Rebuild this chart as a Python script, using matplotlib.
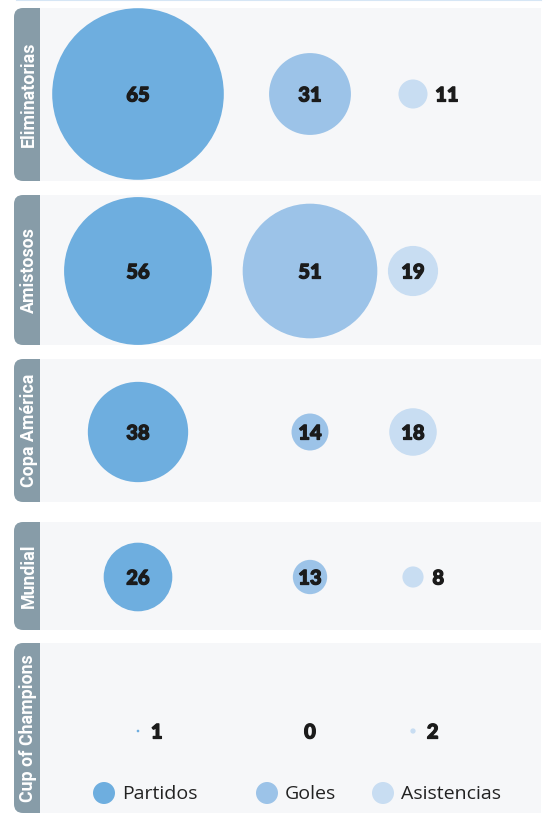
import matplotlib.pyplot as plt
import matplotlib.patheffects as pe
from matplotlib.patches import Circle, FancyBboxPatch, Rectangle

# data
categorias = ["Eliminatorias", "Amistosos", "Copa América", "Mundial", "Cup of Champions"]
partidos = [65, 56, 38, 26, 1]
goles = [31, 51, 14, 13, 0]
asistencias = [11, 19, 18, 8, 2]
series_names = ["Partidos", "Goles", "Asistencias"]

colores = ["#6eaedf", "#9cc3e8", "#c8ddf2"]
banda = "#879ca8"
fondo = "#f6f7f9"

# layout of panels (pixels, top/bottom)
paneles = [(8, 181), (195, 345), (359, 502), (522, 630), (643, 813)]
centros_y = [94, 271, 432, 577, 731]
columnas_x = [138, 310, 413]
px_por_unidad = 1.32

W, H = 551, 813
fig = plt.figure(figsize=(W / 100, H / 100), dpi=100)
ax = fig.add_axes([0, 0, 1, 1])
ax.set_xlim(0, W)
ax.set_ylim(H, 0)
ax.set_aspect("equal")
ax.axis("off")

ax.plot([17, 541], [0.5, 0.5], color="#d6e6f5", lw=1.5)

# make the numbers a bit heavier
grueso = [pe.withStroke(linewidth=0.9, foreground="#1b1b1b")]

for i, cat in enumerate(categorias):
    top, bot = paneles[i]
    ax.add_patch(Rectangle((40, top), 501, bot - top, color=fondo, lw=0))
    ax.add_patch(FancyBboxPatch((14, top), 40, bot - top,
                                boxstyle="round,pad=0,rounding_size=9",
                                color=banda, lw=0))
    ax.add_patch(Rectangle((40, top), 20, bot - top, color=fondo, lw=0))
    ax.text(28.5, (top + bot) / 2, cat, rotation=90, ha="center", va="center",
            color="white", fontsize=12.8, fontweight="bold", family="Roboto")

    vals = [partidos[i], goles[i], asistencias[i]]
    for j, v in enumerate(vals):
        r = v * px_por_unidad
        cx, cy = columnas_x[j], centros_y[i]
        if v > 0:
            ax.add_patch(Circle((cx, cy), r, color=colores[j], lw=0))
        if v == 0 or r >= 15:
            ax.text(cx, cy + 1, str(v), ha="center", va="center",
                    fontsize=14.5, fontweight="black", family="Lato",
                    color="#1b1b1b", path_effects=grueso)
        else:
            ax.text(cx + r * 0.7 + 12, cy + 1, str(v), ha="left", va="center",
                    fontsize=14.5, fontweight="black", family="Lato",
                    color="#1b1b1b", path_effects=grueso)

# legend
leg_x = [104, 267, 383]
for j, name in enumerate(series_names):
    ax.add_patch(Circle((leg_x[j], 793), 11, color=colores[j], lw=0))
    ax.text(leg_x[j] + 18, 794, name, ha="left", va="center",
            fontsize=14, family="Open Sans", color="#222222")

fig.savefig("out.png", dpi=100)
